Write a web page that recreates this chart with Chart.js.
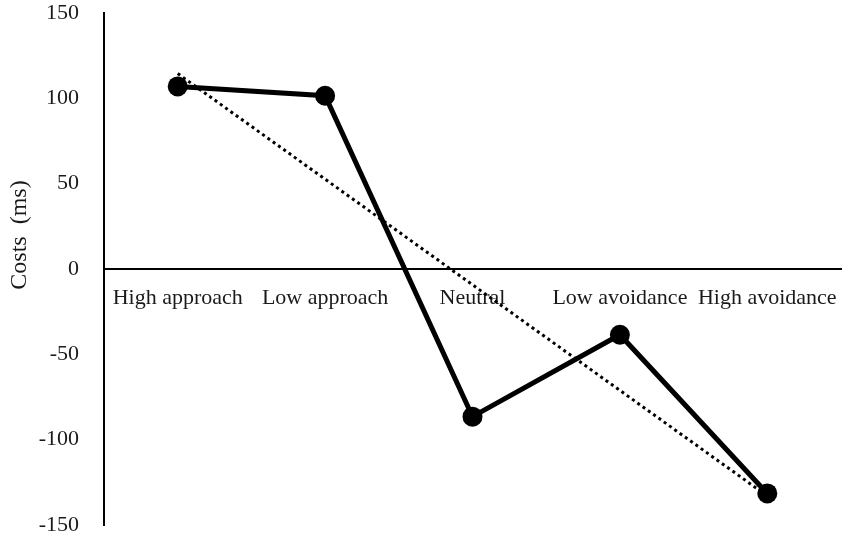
<!DOCTYPE html>
<html>
<head>
<meta charset="utf-8">
<script src="https://cdn.jsdelivr.net/npm/chart.js@4"></script>
<style>
  html, body { margin: 0; padding: 0; background: #fff; }
  #wrap { width: 851px; height: 541px; }
</style>
</head>
<body>
<div id="wrap"><canvas id="graph-display"></canvas></div>
<script>
const categories = ['High approach', 'Low approach', 'Neutral', 'Low avoidance', 'High avoidance'];
const costs = [107, 101.5, -86.5, -38.5, -131.5];
const trendCosts = [114.5, null, null, null, -133];
const yTicks = [-150, -100, -50, 0, 50, 100, 150];
const yTitle = 'Costs  (ms)';

Chart.defaults.font.family = "'Liberation Serif', 'DejaVu Serif', serif";
Chart.defaults.color = '#1a1a1a';

const graphElement = document.getElementById('graph-display');

// y title sits a bit above the middle of the axis in the original, so draw it by hand
const yTitlePlugin = {
    id: 'yTitle',
    afterDraw: (chart) => {
        const ctx = chart.ctx;
        ctx.save();
        ctx.translate(20, 235);
        ctx.rotate(-Math.PI / 2);
        ctx.font = "24px 'Liberation Serif', serif";
        ctx.fillStyle = '#1a1a1a';
        ctx.textAlign = 'center';
        ctx.textBaseline = 'middle';
        ctx.fillText(yTitle, 0, 0);
        ctx.restore();
    }
};

const noEdgePadding = (axis) => {
    axis.paddingTop = 0;
    axis.paddingBottom = 0;
    axis.paddingLeft = 0;
    axis.paddingRight = 0;
};

const config = {
    type: 'line',
    data: {
        labels: categories,
        datasets: [
            {
                label: 'Costs',
                data: costs,
                borderColor: '#000',
                backgroundColor: '#000',
                borderWidth: 5,
                pointRadius: 10,
                pointBackgroundColor: '#000',
                pointBorderWidth: 0,
                tension: 0
            },
            {
                label: 'Trend',
                data: trendCosts,
                spanGaps: true,
                borderColor: '#000',
                borderWidth: 3,
                borderDash: [3, 3.5],
                pointRadius: 0,
                tension: 0
            }
        ]
    },
    options: {
        responsive: true,
        maintainAspectRatio: false,
        animation: false,
        layout: {
            padding: { top: 13, bottom: 16, right: -4, left: 0 }
        },
        plugins: {
            legend: { display: false },
            tooltip: { enabled: false }
        },
        scales: {
            x: {
                type: 'category',
                offset: true,
                position: { y: 0 },
                afterFit: noEdgePadding,
                grid: { display: false },
                border: { display: true, color: '#000', width: 2 },
                ticks: {
                    font: { size: 22 },
                    padding: 8,
                    maxRotation: 0,
                    autoSkip: false
                }
            },
            y: {
                min: -150,
                max: 150,
                afterBuildTicks: (axis) => {
                    axis.ticks = yTicks.map(v => ({ value: v }));
                },
                afterFit: (axis) => {
                    noEdgePadding(axis);
                    axis.width = 104;
                },
                grid: { display: false },
                border: { display: true, color: '#000', width: 2 },
                ticks: {
                    font: { size: 22 },
                    padding: 17
                }
            }
        }
    },
    plugins: [yTitlePlugin]
};

window.chartData = new Chart(graphElement, config);
</script>
</body>
</html>
